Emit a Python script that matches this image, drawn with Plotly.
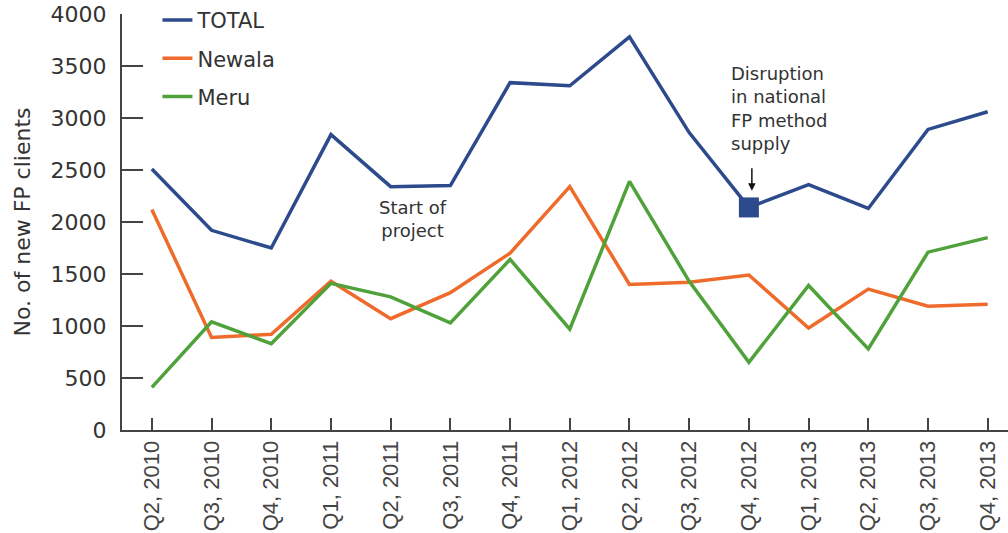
import plotly.graph_objects as go

quarters = ["Q2, 2010", "Q3, 2010", "Q4, 2010", "Q1, 2011", "Q2, 2011", "Q3, 2011",
            "Q4, 2011", "Q1, 2012", "Q2, 2012", "Q3, 2012", "Q4, 2012", "Q1, 2013",
            "Q2, 2013", "Q3, 2013", "Q4, 2013"]
total = [2510, 1920, 1750, 2840, 2340, 2350, 3340, 3310, 3780, 2860, 2140, 2360, 2130, 2890, 3060]
newala = [2120, 890, 920, 1430, 1070, 1320, 1700, 2340, 1400, 1420, 1490, 980, 1355, 1190, 1210]
meru = [410, 1040, 830, 1410, 1280, 1030, 1640, 970, 2390, 1430, 650, 1390, 780, 1710, 1850]

disruption_idx = 10

BLUE = "#2d4a8c"
ORANGE = "#ef6b2c"
GREEN = "#4fa23a"
TEXT = "#333333"

fig = go.Figure()
fig.add_trace(go.Scatter(x=quarters, y=total, name="TOTAL", mode="lines", legendgroup="a",
                         line=dict(color=BLUE, width=3.5)))
fig.add_trace(go.Scatter(x=quarters, y=newala, name="Newala", mode="lines", legendgroup="b",
                         line=dict(color=ORANGE, width=3.5)))
fig.add_trace(go.Scatter(x=quarters, y=meru, name="Meru", mode="lines", legendgroup="c",
                         line=dict(color=GREEN, width=3.5)))
# disruption marker
fig.add_trace(go.Scatter(x=[quarters[disruption_idx]], y=[total[disruption_idx]], mode="markers",
                         marker=dict(symbol="square", size=20, color=BLUE),
                         showlegend=False))

fig.add_annotation(x=4.37, y=2030, xref="x", yref="y", showarrow=False,
                   text="Start of<br>project", align="center",
                   font=dict(family="DejaVu Sans", size=18, color=TEXT))
fig.add_annotation(x=9.66, y=3550, xref="x", yref="y", showarrow=False,
                   xanchor="left", yanchor="top", align="left",
                   text="Disruption<br>in national<br>FP method<br>supply",
                   font=dict(family="DejaVu Sans", size=18, color=TEXT))
fig.add_annotation(x=disruption_idx + 0.05, y=2300, xref="x", yref="y", text="",
                   showarrow=True, ax=0, ay=-24, arrowhead=2, arrowsize=1,
                   arrowwidth=1.5, arrowcolor="#111111")

fig.update_layout(
    width=1008, height=533,
    margin=dict(l=122, r=0, t=14, b=103, autoexpand=False),
    plot_bgcolor="white", paper_bgcolor="white",
    font=dict(family="DejaVu Sans", color=TEXT),
    legend=dict(x=0.04, y=1.034, xanchor="left", yanchor="top",
                font=dict(size=21, color=TEXT), itemwidth=30,
                tracegroupgap=8, bgcolor="rgba(0,0,0,0)"),
    showlegend=True,
)
fig.update_xaxes(type="category", range=[-0.5, 14.34], showgrid=False, automargin=False,
                 showline=True, linecolor="#444444", linewidth=2,
                 ticks="inside", ticklen=12, tickwidth=1.5, tickcolor="#444444",
                 tickangle=-90, tickfont=dict(family="Liberation Sans", size=22, color="#444444"))
fig.update_yaxes(range=[0, 4000], dtick=500, showgrid=False, zeroline=False, automargin=False,
                 showline=True, linecolor="#444444", linewidth=2,
                 ticks="inside", ticklen=21, tickwidth=2, tickcolor="#444444",
                 tickfont=dict(size=22, color=TEXT), ticklabelstandoff=9,
                 ticklabeloverflow="allow",
                 title=dict(text="No. of new FP clients", font=dict(size=22, color=TEXT), standoff=14))

# drop the default 8px page margin so the figure fills the window exactly
fig.write_html("out.html", config={"displayModeBar": False},
               post_script="document.body.style.margin = '0';")
